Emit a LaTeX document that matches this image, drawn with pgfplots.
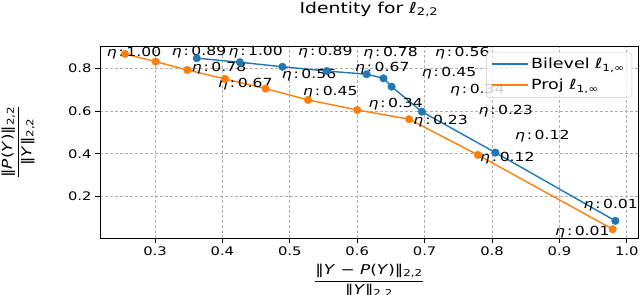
\documentclass[border=0pt]{standalone}
\usepackage{pgfplots}
\pgfplotsset{compat=1.18}
\usepackage{fontspec}
\setmainfont{DejaVu Sans}[FakeStretch=1.25]
\definecolor{mblue}{HTML}{1F77B4}
\definecolor{morange}{HTML}{FF7F0E}
\definecolor{mgrid}{HTML}{B0B0B0}
\newcommand\lb[1]{\textit{η}\hspace{0.15em}:\hspace{0.2em}#1}
\pgfplotstableread{
x y
0.362 0.847
0.426 0.828
0.489 0.807
0.555 0.787
0.614 0.772
0.639 0.753
0.651 0.714
0.696 0.597
0.805 0.406
0.983 0.087
}\bilevel
\pgfplotstableread{
x y
0.2555 0.867
0.301 0.831
0.348 0.792
0.404 0.750
0.464 0.705
0.527 0.652
0.600 0.605
0.677 0.562
0.779 0.395
0.979 0.048
}\proj
\begin{document}
\begin{tikzpicture}
\begin{axis}[name=ax, scale only axis, width=538bp, height=192bp,
  xmin=0.2184, xmax=1.0166, ymin=0.007, ymax=0.904,
  xtick={0.3,0.4,0.5,0.6,0.7,0.8,0.9,1.0},
  ytick={0.2,0.4,0.6,0.8},
  xticklabel style={/pgf/number format/.cd,fixed,fixed zerofill,precision=1},
  yticklabel style={/pgf/number format/.cd,fixed,fixed zerofill,precision=1},
  /pgf/number format/assume math mode=true,
  tick align=outside, tick pos=left, major tick length=5bp,
  tick style={black, line width=0.9bp},
  axis line style={line width=0.9bp},
  grid=major, major grid style={mgrid, dash pattern=on 3bp off 2bp, line width=0.8bp},
  ticklabel style={font=\fontsize{11.8bp}{13bp}\selectfont},
  title={Identity for \textit{ℓ}\textsubscript{2,2}},
  title style={font=\fontsize{15bp}{17bp}\selectfont, anchor=base, at={(axis description cs:0.5,1)}, yshift=27bp},
  xlabel={$\displaystyle\frac{\mbox{‖\textit{Y} − \textit{P}(\textit{Y})‖\textsubscript{2,2}}}{\mbox{‖\textit{Y}‖\textsubscript{2,2}}}$},
  ylabel={$\displaystyle\frac{\mbox{‖\textit{P}(\textit{Y})‖\textsubscript{2,2}}}{\mbox{‖\textit{Y}‖\textsubscript{2,2}}}$},
  label style={font=\fontsize{13.5bp}{15bp}\selectfont},
  xlabel style={at={(axis description cs:0.5,0)}, anchor=center, yshift=-43bp},
  ylabel style={at={(axis description cs:-0.1524,0.5)}, anchor=center, rotate=0},
  legend style={at={(axis description cs:1,1)}, anchor=north east, xshift=-6bp, yshift=-6bp,
    draw=black!20, rounded corners=3bp, fill=white, fill opacity=0.8, text opacity=1, draw opacity=1,
    font=\fontsize{14bp}{16bp}\selectfont, row sep=5bp, inner xsep=5bp, inner ysep=4bp},
  legend cell align=left,
  clip=false]
\addlegendimage{mblue, line width=1.8bp, legend image code/.code={\draw[mblue, line width=1.8bp] (0bp,0bp) -- (36bp,0bp);}}
\addlegendentry{Bilevel \textit{ℓ}\textsubscript{1,∞}}
\addlegendimage{morange, line width=1.8bp, legend image code/.code={\draw[morange, line width=1.8bp] (0bp,0bp) -- (36bp,0bp);}}
\addlegendentry{Proj \textit{ℓ}\textsubscript{1,∞}}
\addplot[mblue, line width=1.4bp, forget plot] table[x=x,y=y] {\bilevel};
\addplot[morange, line width=1.4bp, forget plot] table[x=x,y=y] {\proj};
\addplot[only marks, mark=*, mark size=3.8bp, mblue, forget plot] table[x=x,y=y] {\bilevel};
\addplot[only marks, mark=*, mark size=3.8bp, morange, forget plot] table[x=x,y=y] {\proj};
\begin{scope}[every node/.style={anchor=base west, inner sep=0pt, font=\fontsize{12.5bp}{14bp}\selectfont}]
\node at (axis cs:0.2283,0.8542) {\lb{1.00}};
\node at (axis cs:0.3248,0.8575) {\lb{0.89}};
\node at (axis cs:0.4088,0.8575) {\lb{1.00}};
\node at (axis cs:0.5122,0.8575) {\lb{0.89}};
\node at (axis cs:0.3545,0.7841) {\lb{0.78}};
\node at (axis cs:0.3935,0.7112) {\lb{0.67}};
\node at (axis cs:0.4880,0.7533) {\lb{0.56}};
\node at (axis cs:0.5196,0.6720) {\lb{0.45}};
\node at (axis cs:0.6090,0.8542) {\lb{0.78}};
\node at (axis cs:0.7154,0.8542) {\lb{0.56}};
\node at (axis cs:0.5967,0.7841) {\lb{0.67}};
\node at (axis cs:0.6957,0.7607) {\lb{0.45}};
\node at (axis cs:0.7377,0.6832) {\lb{0.34}};
\node at (axis cs:0.6165,0.6178) {\lb{0.34}};
\node at (axis cs:0.6832,0.5350) {\lb{0.23}};
\node at (axis cs:0.7797,0.5818) {\lb{0.23}};
\node at (axis cs:0.8341,0.4650) {\lb{0.12}};
\node at (axis cs:0.7822,0.3636) {\lb{0.12}};
\node at (axis cs:0.9355,0.1458) {\lb{0.01}};
\node at (axis cs:0.8935,0.0178) {\lb{0.01}};
\end{scope}
\end{axis}
\pgfresetboundingbox
\useasboundingbox ([xshift=-100bp,yshift=-57bp]ax.south west) rectangle ([xshift=2bp,yshift=46bp]ax.north east);
\end{tikzpicture}
\end{document}
